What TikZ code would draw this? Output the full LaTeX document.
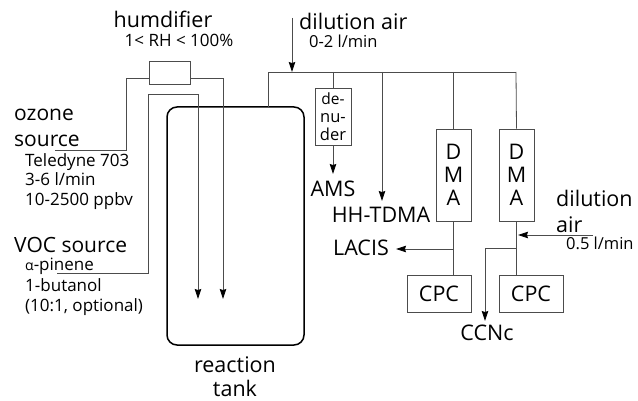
\documentclass[tikz,border=0pt]{standalone}
\usepackage{fontspec}
\setmainfont{Open Sans}
\usetikzlibrary{arrows.meta}
\begin{document}
\begin{tikzpicture}[x=1pt,y=-1pt,
  pipe/.style={draw=black!70,line width=0.8pt},
  flow/.style={pipe,-{Stealth[length=10pt,width=6.5pt,inset=1pt,color=black]}},
  inst/.style={draw=black!70,line width=0.8pt,inner sep=0pt},
  big/.style={font=\fontsize{21.5}{23}\selectfont},
  mid/.style={font=\fontsize{17}{19}\selectfont},
  sml/.style={font=\fontsize{16.5}{18}\selectfont},
  lbl/.style={anchor=base west,inner sep=0pt}]
\useasboundingbox (0,0) rectangle (638,401);
\fill[white] (0,0) rectangle (638,401);
% tank
\draw[line width=1.5pt,rounded corners=10pt] (167,107) rectangle (304,345);
\node[big,anchor=base,inner sep=0pt] (rt1) at (235,372) {reaction};
\node[big,anchor=base,inner sep=0pt] (rt2) at (235,396) {tank};
% humidifier
\node[inst,minimum width=41pt,minimum height=23pt] (hum) at (169.5,72.5) {};
\node[big,anchor=base,inner sep=0pt] (humt) at (163,28) {humdifier};
\node[mid,anchor=base,inner sep=0pt] (rh) at (179,47) {1< RH < 100\%};
% ozone line
\coordinate (oz0) at (55,150);
\coordinate (oz1) at (126,150);
\coordinate (oz2) at (126,78);
\coordinate (oz3) at (223,78);
\coordinate (oz4) at (223,299);
\draw[pipe] (oz0) -- (oz1) -- (oz2) -- (hum.west |- oz2);
\draw[flow] (hum.east |- oz3) -- (oz3) -- (oz4);
% VOC line
\coordinate (v0) at (57,273);
\coordinate (v1) at (148,273);
\coordinate (v2) at (148,94);
\coordinate (v3) at (198,94);
\coordinate (v4) at (198,299);
\draw[flow] (v0) -- (v1) -- (v2) -- (v3) -- (v4);
% left labels
\node[lbl,font=\fontsize{21}{23}\selectfont] (oz) at (14,121) {ozone};
\node[lbl,font=\fontsize{21}{23}\selectfont] (ozs) at (14,147) {source};
\node[lbl,mid] (t1) at (25,167) {Teledyne 703};
\node[lbl,mid] (t2) at (25,186) {3-6 l/min};
\node[lbl,mid] (t3) at (25,206) {10-2500 ppbv};
\node[lbl,font=\fontsize{21}{23}\selectfont] (voc) at (14,253) {VOC source};
\node[lbl,mid] (p1) at (25,270) {{\fontsize{14}{16}\selectfont α}-pinene};
\node[lbl,mid] (p2) at (25,291) {1-butanol};
\node[lbl,mid] (p3) at (25,311) {(10:1, optional)};
% sampling manifold
\coordinate (m0) at (268,107);
\coordinate (m1) at (268,72);
\coordinate (m2) at (516,72);
\coordinate (da) at (292,18);
\coordinate (dj) at (292,72);
\draw[pipe] (m0) -- (m1) -- (m2);
\draw[flow] (da) -- (dj);
\node[lbl,big] (dil) at (299,30) {dilution air};
\node[lbl,sml] (dilr) at (309,48) {0-2 l/min};
% denuder
\node[inst,minimum width=36pt,minimum height=57pt,sml,align=center] (den) at (333,116.5) {\fontsize{15.5}{19}\selectfont de-\\nu-\\der};
\draw[pipe] (den.north |- m1) -- (den.north);
\coordinate (amsp) at (333,174);
\draw[flow] (den.south) -- (amsp);
\node[big,anchor=base,inner sep=0pt] (ams) at (333,197) {AMS};
% HH-TDMA
\coordinate (hh0) at (382,72);
\coordinate (hh1) at (382,201);
\draw[flow] (hh0) -- (hh1);
\node[big,anchor=base,inner sep=0pt] (hht) at (381,223) {HH-TDMA};
% DMA 1
\node[inst,minimum width=35pt,minimum height=92pt,big,align=center] (dma1) at (453.5,175) {\fontsize{21.5}{27}\selectfont D\\M\\A};
\draw[pipe] (dma1.north |- m1) -- (dma1.north);
\node[inst,minimum width=64pt,minimum height=37pt,font=\fontsize{21.5}{23}\selectfont] (cpc1) at (439,293.5) {CPC};
\coordinate (j1) at (453,249);
\draw[pipe] (dma1.south) -- (dma1.south |- cpc1.north);
\coordinate (lac) at (396,249);
\draw[flow] (j1) -- (lac);
\node[big,anchor=base east,inner sep=0pt] (lact) at (389,255) {LACIS};
% DMA 2
\node[inst,minimum width=35pt,minimum height=92pt,big,align=center] (dma2) at (516.5,175) {\fontsize{21.5}{27}\selectfont D\\M\\A};
\draw[pipe] (m2) -- (dma2.north);
\node[inst,minimum width=64pt,minimum height=37pt,font=\fontsize{21.5}{23}\selectfont] (cpc2) at (531,293.5) {CPC};
\draw[pipe] (dma2.south) -- (dma2.south |- cpc2.north);
\coordinate (d2a) at (593,235);
\coordinate (d2b) at (518,235);
\draw[flow] (d2a) -- (d2b);
\node[lbl,big] (dl2) at (556,207) {dilution};
\node[lbl,big] (dl3) at (556,233) {air};
\node[lbl,sml] (dl4) at (566,250) {0.5 l/min};
\coordinate (c0) at (516,248);
\coordinate (c1) at (485,248);
\coordinate (c2) at (485,321);
\draw[flow] (c0) -- (c1) -- (c2);
\node[big,anchor=base,inner sep=0pt] (ccn) at (487,340) {CCNc};
\end{tikzpicture}
\end{document}
